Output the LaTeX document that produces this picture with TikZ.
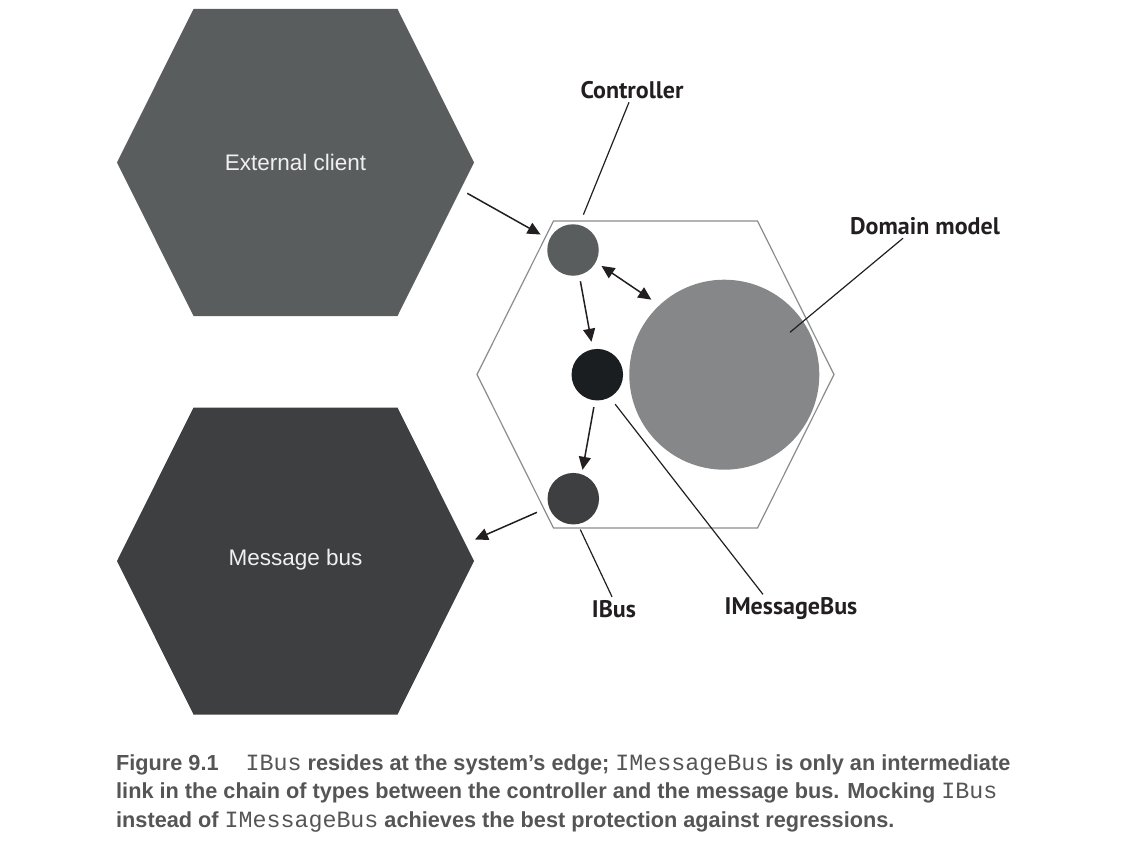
\documentclass[tikz,border=0pt]{standalone}
\usepackage{fontspec}
\setmainfont{PT Sans}
\newfontfamily\hexfont{Liberation Sans}
\newfontfamily\capfont[FakeStretch=0.995]{Liberation Sans}
\newfontfamily\capmono{Liberation Mono}
\usetikzlibrary{arrows.meta}
\definecolor{extgray}{HTML}{5A5D5E}
\definecolor{busgray}{HTML}{3E3F41}
\definecolor{imbblack}{HTML}{1A1E20}
\definecolor{domgray}{HTML}{868789}
\definecolor{edgegray}{HTML}{8C8C8C}
\definecolor{inkblack}{HTML}{231F20}
\definecolor{capgray}{HTML}{555555}
\newcommand{\hexagon}[2]{(#1,#2) ++(-178.5,0) -- ++(76.5,-153.5) -- ++(204,0) -- ++(76.5,153.5) -- ++(-76.5,153.5) -- ++(-204,0) -- cycle}
\newcommand{\cm}[1]{{\capmono\mdseries\fontsize{23.3}{25}\selectfont #1}}

\begin{document}
\begin{tikzpicture}[x=1pt,y=-1pt,
  dot/.style={circle,inner sep=0pt,minimum size=51.5pt},
  arr/.style={line width=1.5pt,draw=inkblack,-{Triangle[length=13pt,width=12pt]}},
  lead/.style={line width=1.2pt,draw=inkblack},
  lbl/.style={font=\bfseries\fontsize{24}{28}\selectfont,text=inkblack},
  hexlbl/.style={font=\hexfont\fontsize{22.5}{26}\selectfont,text=white!94!black},
  captext/.style={anchor=base west,inner sep=0pt,font=\capfont\bfseries\fontsize{21.8}{25}\selectfont,text=capgray}]
  \useasboundingbox (0,0) rectangle (1125,843);
  % outer hexagons
  \fill[extgray] \hexagon{295.5}{162.5};
  \fill[busgray] \hexagon{295.5}{561};
  \node[hexlbl] (ext) at (295.5,162) {External client};
  \node[hexlbl] (mbus) at (295.5,560) {Message bus};
  % the system
  \draw[edgegray,line width=1.2pt] \hexagon{655.5}{374.5};
  \node[dot,fill=extgray] (ctrl) at (573,250) {};
  \node[dot,fill=imbblack] (imb) at (597.3,374.7) {};
  \node[dot,fill=busgray] (ibus) at (573.3,498.7) {};
  \node[circle,inner sep=0pt,minimum size=190pt,fill=domgray] (dom) at (724.3,374.7) {};
  \coordinate (ext-out) at (467.3,193.3);
  \coordinate (mbus-in) at (475,539.5);
  \coordinate (dom-pt) at (790,332.3);
  % arrows
  \draw[arr,shorten >=10pt] (ext-out) -- (ctrl.156);
  \draw[arr,{Triangle[length=13pt,width=12pt]}-{Triangle[length=13pt,width=12pt]},shorten <=6.7pt,shorten >=9.7pt] (ctrl.-28) -- (dom.133);
  \draw[arr,shorten <=6.2pt,shorten >=7.5pt] (ctrl.-76) -- (imb.100);
  \draw[arr,shorten <=6.7pt,shorten >=4.4pt] (imb.-95) -- (ibus.71);
  \draw[arr,shorten <=12.9pt] (ibus.-161) -- (mbus-in);
  % labels
  \node[lbl] (ctrl-lbl) at (632,90) {Controller};
  \node[lbl] (dom-lbl) at (925,226) {Domain model};
  \node[lbl] (ibus-lbl) at (614,609) {IBus};
  \node[lbl] (imb-lbl) at (791,609) {IMessageBus};
  \draw[lead,shorten >=11pt] ([xshift=-3pt]ctrl-lbl.south) -- (ctrl.76);
  \draw[lead] ([xshift=-22pt]dom-lbl.south) -- (dom-pt);
  \draw[lead,shorten <=8.6pt] (imb.-61) -- ([xshift=-28pt]imb-lbl.north);
  \draw[lead,shorten <=5.8pt] (ibus.-80) -- ([xshift=-2pt]ibus-lbl.north);
  % caption
  \node[captext] (cap1) at (116,770) {Figure 9.1\hspace{27pt}\cm{IBus} resides at the system’s edge; \cm{IMessageBus} is only an intermediate};
  \node[captext] (cap2) at (116,798.5) {link in the chain of types between the controller and the message bus. Mocking \cm{IBus}};
  \node[captext] (cap3) at (116,827) {instead of \cm{IMessageBus} achieves the best protection against regressions.};
\end{tikzpicture}
\end{document}
